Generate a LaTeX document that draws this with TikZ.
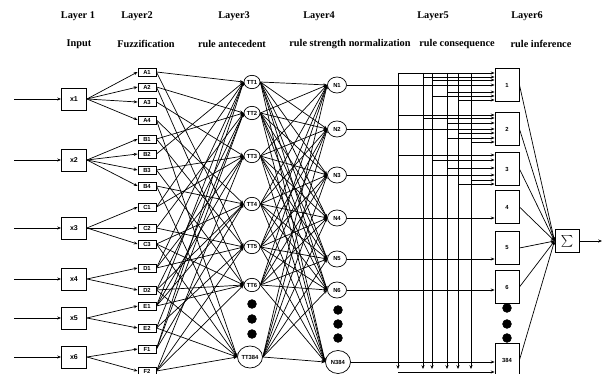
\documentclass[tikz,border=0pt]{standalone}
\usepackage{fontspec}
\setmainfont{Liberation Serif}
\setsansfont{Liberation Sans}
\usetikzlibrary{arrows.meta,shapes.geometric}

\begin{document}
\begin{tikzpicture}[x=0.03cm,y=-0.03cm,semithick,
  >={Stealth[length=3.2pt,width=2.6pt]},
  lbl/.style={font=\sffamily\bfseries\fontsize{5}{6}\selectfont},
  title/.style={font=\bfseries\fontsize{8.8}{10}\selectfont},
  inbox/.style={draw,thick,lbl,inner sep=0pt,minimum width=0.75cm,minimum height=0.66cm},
  fuzbox/.style={draw,thick,lbl,inner sep=0pt,minimum width=0.54cm,minimum height=0.24cm},
  rulenode/.style={draw,ellipse,lbl,inner sep=0pt,minimum width=0.48cm,minimum height=0.4cm},
  normnode/.style={draw,ellipse,lbl,inner sep=0pt,minimum width=0.57cm,minimum height=0.48cm},
  consbox/.style={draw,thick,lbl,inner sep=0pt,minimum width=0.72cm,minimum height=0.99cm}]

\useasboundingbox (0,0) rectangle (603,374);

% titles
\node[title] at (78,16) {Layer 1};
\node[title] at (137,16) {Layer2};
\node[title] at (234,16) {Layer3};
\node[title] at (319,16) {Layer4};
\node[title] at (433,16) {Layer5};
\node[title] at (527,16) {Layer6};
\node[title] at (79,44) {Input};
\node[title] at (146,44) {Fuzzification};
\node[title] at (232,44) {rule antecedent};
\node[title] at (350,44) {rule strength normalization};
\node[title] at (457,44) {rule consequence};
\node[title] at (541,44) {rule inference};

% layer 1
\foreach \i/\y in {1/99,2/160,3/228,4/279,5/318,6/357}{
  \node[inbox,font=\sffamily\bfseries\fontsize{6}{7}\selectfont] (x\i) at (74,\y) {x\i};
  \coordinate (in\i) at (14,\y);
  \draw[->] (in\i) -- (x\i);
}

% layer 2
\foreach \n/\y in {A1/72,A2/87,A3/102,A4/120,B1/139,B2/154,B3/170,B4/186,
                   C1/207,C2/228,C3/244,D1/268,D2/290,E1/306,E2/328,F1/349,F2/371}{
  \node[fuzbox] (\n) at (147,\y) {\n};
}
\foreach \i/\list in {1/{A1,A2,A3,A4},2/{B1,B2,B3,B4},3/{C1,C2,C3},4/{D1,D2},5/{E1,E2},6/{F1,F2}}{
  \foreach \n in \list
    \draw[->] (x\i.east) -- (\n.west);
}

% layer 3
\foreach \t/\y in {1/82,2/113,3/156,4/204,5/247,6/285}{
  \node[rulenode] (TT\t) at (252,\y) {TT\t};
}
\node[rulenode,minimum width=0.75cm,minimum height=0.66cm] (TT384) at (250,357) {TT384};
\filldraw[black] (252,304) circle (0.13cm);
\filldraw[black] (252,319) circle (0.13cm);
\filldraw[black] (252,334) circle (0.13cm);

\foreach \t/\list in {1/{A1,B2,C1,D1,E1,F1},2/{A2,B1,C2,D2,E2,F1},3/{A3,B3,C1,D1,E1,F2},
                      4/{A4,B4,C3,D2,E1,F1},5/{A1,B1,C2,D1,E2,F2},6/{A2,B3,C3,D2,E1,F2},
                      384/{A4,B4,C3,D2,E2,F2}}{
  \foreach \n in \list
    \draw[->] (\n.east) -- (TT\t.west);
}

% layer 4
\foreach \k/\y in {1/85,2/129,3/175,4/218,5/259,6/290}{
  \node[normnode] (N\k) at (337,\y) {N\k};
}
\node[normnode,minimum width=0.75cm,minimum height=0.69cm] (N384) at (338,362) {N384};
\filldraw[black] (338,310) circle (0.13cm);
\filldraw[black] (338,324) circle (0.13cm);
\filldraw[black] (338,338) circle (0.13cm);

\foreach \t in {1,2,3,4,5,6,384}{
  \foreach \k in {1,2,3,4,5,6,384}
    \draw[->] (TT\t.east) -- (N\k.west);
}

% layer 5
\foreach \k/\y in {1/85,2/129,3/169,4/207,5/248,6/287,384/360}{
  \node[consbox] (cons\k) at (507,\y) {\k};
  \draw[->] (N\k.east) -- (N\k.east -| cons\k.west);
}
\filldraw[black] (507,308) circle (0.13cm);
\filldraw[black] (507,324) circle (0.13cm);
\filldraw[black] (507,338) circle (0.13cm);

\foreach \j/\x in {1/398,2/423,3/432,4/447,5/458,6/471}{
  \coordinate (bt\j) at (\x,73);
  \coordinate (bb\j) at (\x,369);
  \draw[->] (bt\j) -- (bb\j);
}
\draw[->] (bt1) -- (bt1 -| cons1.west);
\coordinate (bl) at (398,372);
\draw[->] (bl) -- (bl -| cons384.west);

\foreach \k/\x/\y in {1/423/77,1/432/80,1/447/92,1/432/96,1/458/100,
                      2/398/115,2/423/118,2/447/123,2/458/133,2/447/138,2/471/142,
                      3/398/155,3/432/160,3/447/168,3/471/180,3/458/184}{
  \coordinate (tap) at (\x,\y);
  \draw[->] (tap) -- (tap -| cons\k.west);
}

% layer 6
\node[draw,thick,inner sep=0pt,minimum width=0.72cm,minimum height=0.69cm] (S) at (567,241) {\Large$\sum$};
\foreach \k in {1,2,3,4,5,6,384}
  \draw[->] (cons\k.east) -- (S.west);
\coordinate (out) at (602,241);
\draw[->] (S) -- (out);

\end{tikzpicture}
\end{document}
